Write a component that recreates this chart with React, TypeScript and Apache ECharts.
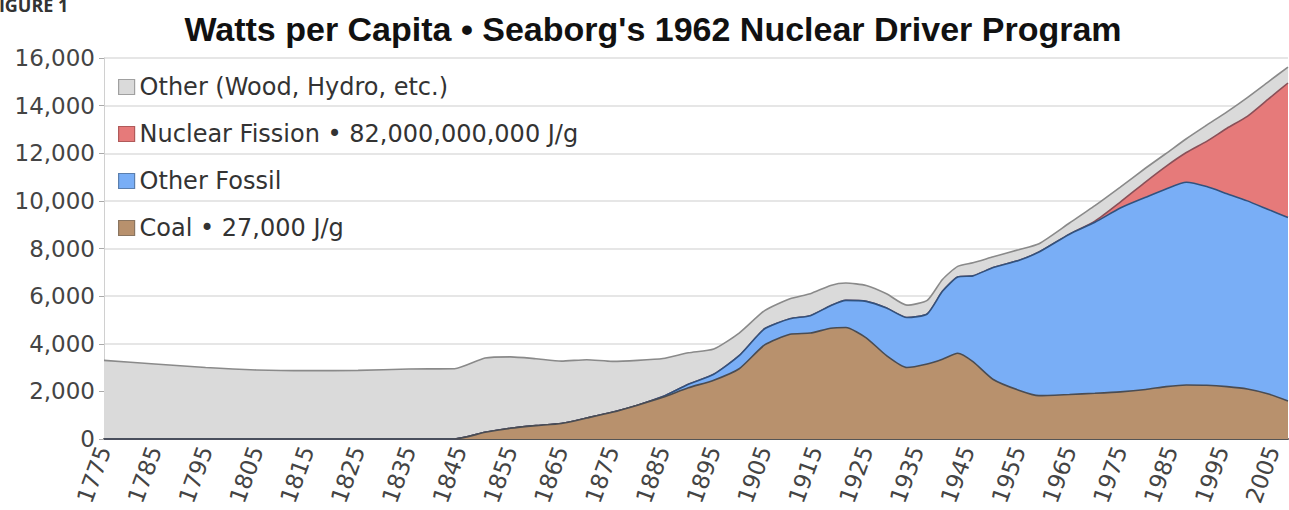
import React, { useEffect, useRef } from "react";
import * as echarts from "echarts";

const years = [1775, 1785, 1795, 1805, 1815, 1825, 1835, 1844,
  1850, 1855, 1860, 1865, 1870, 1875, 1880, 1885, 1890, 1895, 1900, 1905,
  1910, 1914, 1918, 1921, 1925, 1929, 1933, 1937, 1940, 1943, 1946, 1950, 1955, 1959,
  1965, 1970, 1975, 1980, 1984, 1988, 1992, 1996, 2000, 2004, 2008];

const coal = [0, 0, 0, 0, 0, 0, 0, 0,
  280, 450, 560, 650, 880, 1120, 1420, 1750, 2150, 2470, 2950, 3950,
  4400, 4450, 4650, 4680, 4250, 3500, 3000, 3150, 3350, 3600, 3250, 2500, 2050, 1820,
  1870, 1920, 1980, 2080, 2200, 2270, 2260, 2200, 2100, 1900, 1600];

const otherFossil = [0, 0, 0, 0, 0, 0, 0, 0,
  0, 0, 0, 0, 0, 0, 0, 30, 150, 250, 550, 680,
  650, 730, 950, 1140, 1530, 2000, 2100, 2100, 2850, 3200, 3600, 4700, 5450, 6030,
  6730, 7180, 7720, 8070, 8300, 8510, 8340, 8100, 7900, 7750, 7700];

const nuclear = [0, 0, 0, 0, 0, 0, 0, 0,
  0, 0, 0, 0, 0, 0, 0, 0, 0, 0, 0, 0,
  0, 0, 0, 0, 0, 0, 0, 0, 0, 0, 0, 0, 0, 0,
  0, 50, 250, 650, 950, 1250, 1900, 2750, 3550, 4600, 5650];

const other = [3300, 3150, 3000, 2900, 2870, 2880, 2940, 2950,
  3120, 3000, 2810, 2620, 2450, 2140, 1880, 1600, 1320, 1060, 950, 760,
  840, 920, 850, 730, 670, 600, 520, 570, 500, 450, 550, 450, 450, 350,
  470, 650, 630, 580, 540, 580, 680, 690, 790, 730, 670];

const seriesNames = [
  "Coal • 27,000 J/g",
  "Other Fossil",
  "Nuclear Fission • 82,000,000,000 J/g",
  "Other (Wood, Hydro, etc.)",
];
const legendOrder = [seriesNames[3], seriesNames[2], seriesNames[1], seriesNames[0]];
const fills = ["#b8916d", "#79aef6", "#e67a7a", "#dadada"];
const strokes = ["#4a4c52", "#31527e", "#8a5058", "#8a8a8a"];
const iconBorders = ["#8a7560", "#5b7fae", "#b05a5a", "#a0a0a0"];
const titleText = "Watts per Capita • Seaborg's 1962 Nuclear Driver Program";

export default function App() {
  const ref = useRef<HTMLDivElement>(null);
  useEffect(() => {
    if (!ref.current) return;
    const chart = echarts.init(ref.current, null, { renderer: "svg" });
    const layers = [coal, otherFossil, nuclear, other];
    // cumulative tops of each stacked layer (coal at the bottom)
    const tops: number[][] = [];
    layers.forEach((arr, i) => {
      tops.push(arr.map((v, k) => v + (i > 0 ? tops[i - 1][k] : 0)));
    });
    chart.setOption({
      animation: false,
      backgroundColor: "#ffffff",
      title: {
        text: titleText,
        left: 648,
        textAlign: "center",
        top: 7,
        textStyle: {
          fontFamily: "Liberation Sans",
          fontWeight: "bold",
          fontSize: 34,
          color: "#111",
        },
      },
      graphic: [
        {
          type: "text",
          x: -11,
          y: -4,
          z: 100,
          style: {
            text: "FIGURE 1",
            fontSize: 18,
            fontWeight: "bold",
            fontFamily: "Open Sans",
            fill: "#333",
          },
        },
      ],
      legend: {
        orient: "vertical",
        left: 113,
        top: 70,
        itemWidth: 16,
        itemHeight: 15,
        itemGap: 23,
        icon: "rect",
        data: legendOrder,
        itemStyle: { borderWidth: 1.2 },
        textStyle: {
          fontFamily: "DejaVu Sans",
          fontSize: 24,
          color: "#333",
          lineHeight: 24,
        },
      },
      grid: { left: 104, right: 0, top: 58, bottom: 71, containLabel: false },
      xAxis: {
        type: "value",
        min: 1775,
        max: 2008,
        interval: 10,
        axisLine: { show: true, lineStyle: { color: "#555", width: 2 } },
        axisTick: { show: false },
        splitLine: { show: false },
        axisLabel: {
          rotate: 70,
          margin: 8,
          fontFamily: "DejaVu Sans",
          fontSize: 23,
          color: "#444",
          formatter: (v: number) => (v % 10 === 5 ? String(v) : ""),
        },
      },
      yAxis: {
        type: "value",
        min: 0,
        max: 16000,
        interval: 2000,
        axisLine: { show: true, lineStyle: { color: "#d0d0d0", width: 1 } },
        axisTick: { show: true, length: 5, lineStyle: { color: "#aaa" } },
        splitLine: { show: true, lineStyle: { color: "#dedede", width: 1.5 } },
        axisLabel: {
          margin: 9,
          fontFamily: "DejaVu Sans",
          fontSize: 23,
          color: "#444",
          formatter: (v: number) => v.toLocaleString("en-US"),
        },
      },
      series: seriesNames.map((name, i) => ({
        name,
        type: "line",
        symbol: "none",
        smooth: 0.2,
        data: years.map((y, k) => [y, tops[i][k]]),
        itemStyle: { color: fills[i], borderColor: iconBorders[i] },
        lineStyle: { color: strokes[i], width: 1.6 },
        areaStyle: { color: fills[i], opacity: 1, origin: "start" },
        z: 10 - i,
      })),
    });
    return () => chart.dispose();
  }, []);
  return (
    <div
      ref={ref}
      style={{ position: "fixed", left: 0, top: 0, width: 1289, height: 510 }}
    />
  );
}
